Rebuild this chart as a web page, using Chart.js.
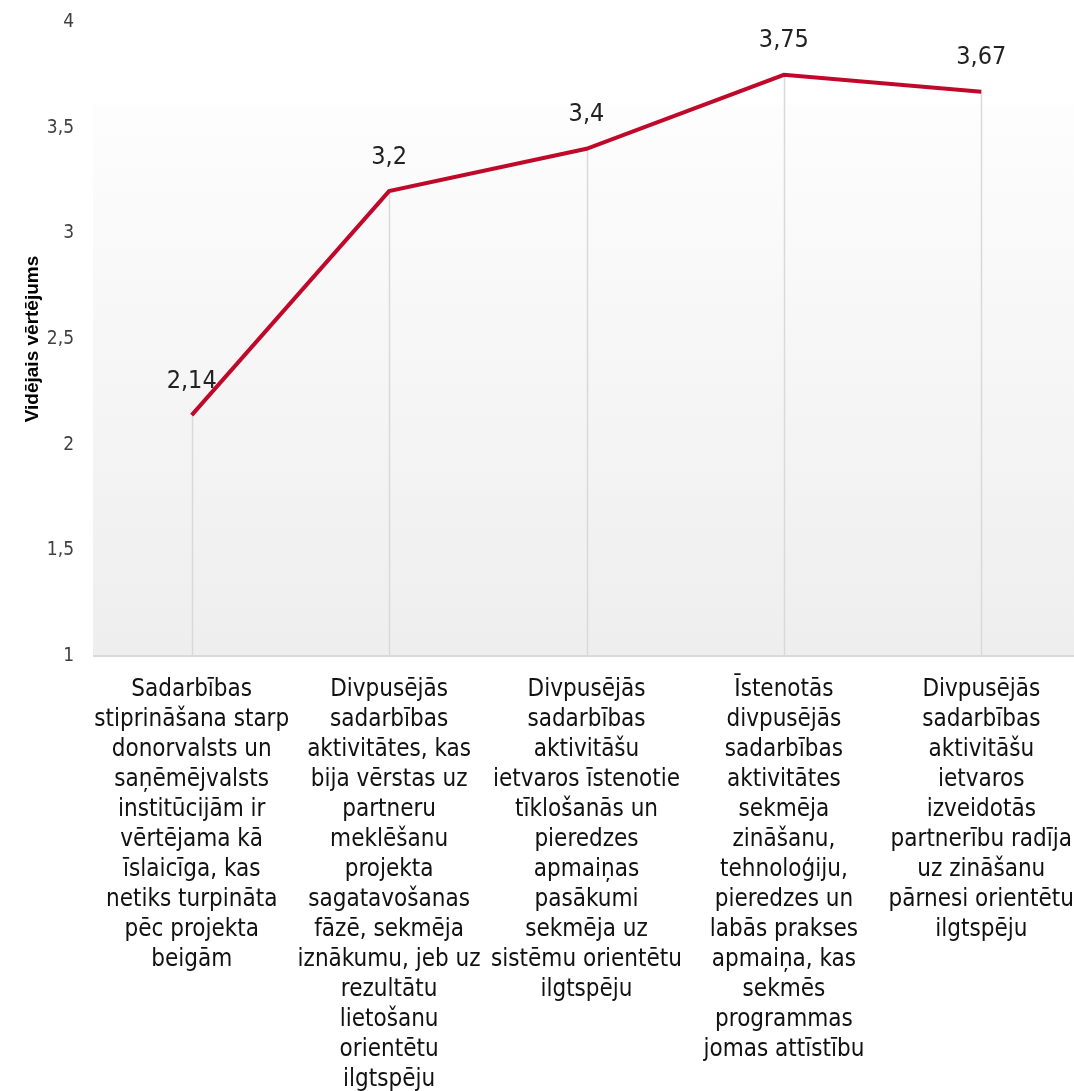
<!DOCTYPE html>
<html><head><meta charset="utf-8">
<script src="https://cdn.jsdelivr.net/npm/chart.js@4"></script>
<style>html,body{margin:0;padding:0;background:#fff;overflow:hidden;width:1074px;height:1091px}#wrap{width:1082px;height:1091px}</style>
</head><body><div id="wrap"><canvas id="c" width="1082" height="1091"></canvas></div>
<script>
const categories = [
  ["Sadarbības","stiprināšana starp","donorvalsts un","saņēmējvalsts","institūcijām ir","vērtējama kā","īslaicīga, kas","netiks turpināta","pēc projekta","beigām"],
  ["Divpusējās","sadarbības","aktivitātes, kas","bija vērstas uz","partneru","meklēšanu","projekta","sagatavošanas","fāzē, sekmēja","iznākumu, jeb uz","rezultātu","lietošanu","orientētu","ilgtspēju"],
  ["Divpusējās","sadarbības","aktivitāšu","ietvaros īstenotie","tīklošanās un","pieredzes","apmaiņas","pasākumi","sekmēja uz","sistēmu orientētu","ilgtspēju"],
  ["Īstenotās","divpusējās","sadarbības","aktivitātes","sekmēja","zināšanu,","tehnoloģiju,","pieredzes un","labās prakses","apmaiņa, kas","sekmēs","programmas","jomas attīstību"],
  ["Divpusējās","sadarbības","aktivitāšu","ietvaros","izveidotās","partnerību radīja","uz zināšanu","pārnesi orientētu","ilgtspēju"]
];
const values = [2.14, 3.2, 3.4, 3.75, 3.67];
const valueLabels = ["2,14","3,2","3,4","3,75","3,67"];
const yTitle = "Vidējais vērtējums";

const FONT = "'DejaVu Sans Condensed', 'Liberation Sans Narrow', sans-serif";

const bgPlugin = {
  id: 'bg',
  beforeDraw(chart) {
    const {ctx, chartArea:a} = chart;
    const top = a.top + (a.bottom - a.top) * 0.13;
    const g = ctx.createLinearGradient(0, top, 0, a.bottom);
    g.addColorStop(0, '#fdfdfd');
    g.addColorStop(1, '#eeeeee');
    ctx.save();
    ctx.fillStyle = g;
    ctx.fillRect(a.left, top, chart.width - a.left, a.bottom - top);
    ctx.restore();
  },
  beforeDatasetsDraw(chart) {
    const {ctx, chartArea:a} = chart;
    const meta = chart.getDatasetMeta(0);
    ctx.save();
    ctx.strokeStyle = '#d9d9d9';
    ctx.lineWidth = 1.5;
    meta.data.forEach(p => {
      ctx.beginPath();
      ctx.moveTo(Math.round(p.x)+0.5, p.y);
      ctx.lineTo(Math.round(p.x)+0.5, a.bottom);
      ctx.stroke();
    });
    ctx.lineWidth = 2;
    ctx.beginPath();
    ctx.moveTo(a.left, a.bottom);
    ctx.lineTo(chart.width, a.bottom);
    ctx.stroke();
    ctx.restore();
  },
  afterDatasetsDraw(chart) {
    const {ctx} = chart;
    const meta = chart.getDatasetMeta(0);
    ctx.save();
    ctx.fillStyle = '#222';
    ctx.font = "25px " + FONT;
    ctx.textAlign = 'center';
    ctx.textBaseline = 'middle';
    meta.data.forEach((p,i) => {
      ctx.fillText(valueLabels[i], p.x, p.y - 34);
    });
    ctx.restore();
  }
};

new Chart(document.getElementById('c'), {
  type: 'line',
  data: {
    labels: categories,
    datasets: [{
      data: values,
      borderColor: '#c0092a',
      borderWidth: 4,
      pointRadius: 0,
      tension: 0,
      fill: false
    }]
  },
  options: {
    responsive: false,
    animation: false,
    devicePixelRatio: 1,
    layout: { padding: { top: 22, right: 2, left: 21, bottom: 0 } },
    plugins: { legend: { display: false }, tooltip: { enabled: false } },
    scales: {
      x: {
        offset: true,
        grid: { display: false, drawTicks: false },
        border: { display: false },
        ticks: {
          color: '#111',
          font: { family: FONT, size: 24, lineHeight: 1.25 },
          padding: 19,
          maxRotation: 0,
          autoSkip: false
        },
        afterFit(s) { s.height = 435; s.paddingLeft = 0; s.paddingRight = 0; }
      },
      y: {
        min: 1, max: 4,
        grid: { display: false, drawTicks: false },
        border: { display: false },
        ticks: {
          stepSize: 0.5,
          color: '#404040',
          padding: 19,
          font: { family: FONT, size: 19 },
          callback: v => String(v).replace('.', ',')
        },
        title: {
          display: true,
          text: yTitle,
          color: '#000',
          font: { family: "'Liberation Sans', 'DejaVu Sans', sans-serif", size: 19, weight: 'bold' },
          padding: { top: 0, bottom: 0 }
        },
        afterFit(s) { s.width = 72; s.paddingTop = 0; s.paddingBottom = 0; }
      }
    }
  },
  plugins: [bgPlugin]
});
</script>
</body></html>
